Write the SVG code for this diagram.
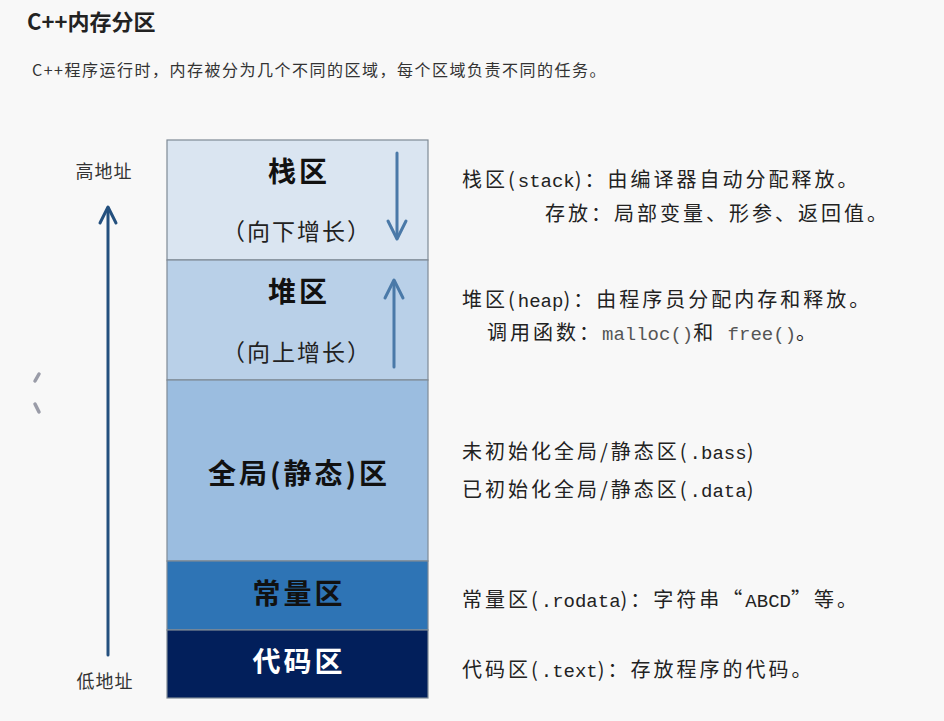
<svg xmlns="http://www.w3.org/2000/svg" width="944" height="721" viewBox="0 0 944 721">
<style>
.t{font-family:"Noto Sans CJK SC","Noto Sans",sans-serif;}
.box{stroke:#7f8a96;stroke-width:1.2;}
.bl{font-family:"Noto Sans CJK SC",sans-serif;font-size:28px;font-weight:bold;fill:#111;text-anchor:middle;letter-spacing:3px;}
.sub{font-family:"Noto Sans CJK SC",sans-serif;font-size:23px;fill:#222;text-anchor:middle;letter-spacing:2px;}
.r{font-family:"Noto Sans CJK SC",sans-serif;font-size:20px;fill:#222;letter-spacing:3px;}
.m{font-family:"Liberation Mono","DejaVu Sans Mono",monospace;font-size:19px;letter-spacing:0;}
.addr{font-family:"Noto Sans CJK SC",sans-serif;font-size:18px;fill:#333;text-anchor:middle;letter-spacing:1px;}
.ar{fill:none;stroke-width:3;stroke-linecap:round;stroke-linejoin:round;}
</style>
<rect width="944" height="721" fill="#f8f8f8"/>
<text class="t" x="27" y="30" font-size="22" font-weight="bold" fill="#222">C++内存分区</text>
<text class="t" x="32" y="76" font-size="16" fill="#333" letter-spacing="1.5">C++程序运行时，内存被分为几个不同的区域，每个区域负责不同的任务。</text>
<g id="stack"><rect class="box" x="167" y="140" width="261" height="120" fill="#dae5f1"/><text class="bl" x="299" y="182">栈区</text><text class="sub" x="297" y="240">（向下增长）</text></g>
<g id="heap"><rect class="box" x="167" y="260" width="261" height="120" fill="#b9d0e8"/><text class="bl" x="299" y="302">堆区</text><text class="sub" x="297" y="361">（向上增长）</text></g>
<g id="global"><rect class="box" x="167" y="380" width="261" height="181" fill="#9bbde0"/><text class="bl" x="299" y="484">全局(静态)区</text></g>
<g id="const"><rect class="box" x="167" y="561" width="261" height="69" fill="#2e74b5"/><text class="bl" x="299" y="604">常量区</text></g>
<g id="code"><rect class="box" x="167" y="630" width="261" height="68" fill="#021f5b"/><text class="bl" x="299" y="672" style="fill:#fff">代码区</text></g>
<g id="connectors">
<g stroke="#24507e" class="ar"><line x1="108" y1="655" x2="108" y2="208"/><path d="M100,223 L108,207 L116,223"/></g>
<g stroke="#4a79a8" class="ar"><line x1="397" y1="153" x2="397" y2="238"/><path d="M388,221 L397,239 L406,221"/></g>
<g stroke="#4a79a8" class="ar"><line x1="394" y1="367" x2="394" y2="281"/><path d="M385,298 L394,280 L403,298"/></g>
</g>
<text class="addr" x="104" y="178">高地址</text>
<text class="addr" x="105" y="688">低地址</text>
<path d="M39,374 L35,381 M35,404 L39,412" stroke="#9a9ca8" stroke-width="3.5" stroke-linecap="round"/>
<g id="notes">
<text class="r" x="462" y="187">栈区(<tspan class="m">stack</tspan>)：由编译器自动分配释放。</text>
<text class="r" x="545" y="221">存放：局部变量、形参、返回值。</text>
<text class="r" x="462" y="307">堆区(<tspan class="m">heap</tspan>)：由程序员分配内存和释放。</text>
<text class="r" x="487" y="340">调用函数：<tspan class="m" fill="#555">malloc()</tspan>和<tspan class="m" fill="#555"> free()</tspan>。</text>
<text class="r" x="462" y="459">未初始化全局/静态区(<tspan class="m">.bass</tspan>)</text>
<text class="r" x="462" y="497">已初始化全局/静态区(<tspan class="m">.data</tspan>)</text>
<text class="r" x="462" y="607">常量区(<tspan class="m">.rodata</tspan>)：字符串“<tspan class="m">ABCD</tspan>”等。</text>
<text class="r" x="462" y="677">代码区(<tspan class="m">.text</tspan>)：存放程序的代码。</text>
</g>
</svg>
